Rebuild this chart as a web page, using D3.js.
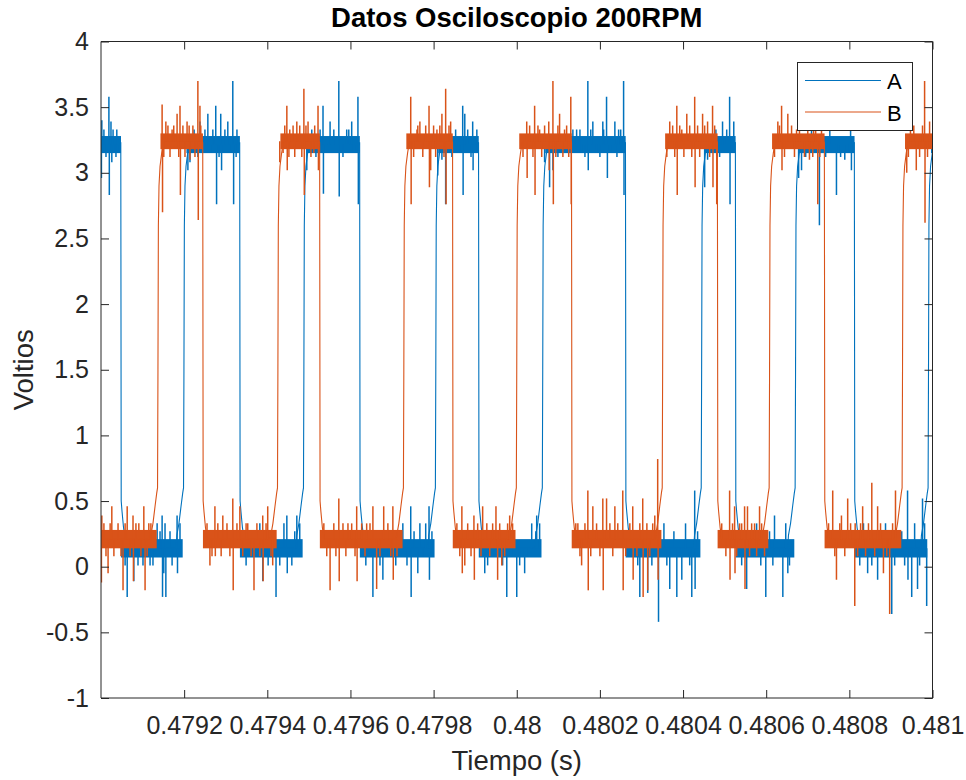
<!DOCTYPE html>
<meta charset="utf-8">
<style>
body, html {
    margin: 0;
    padding: 0;
    background: #fff;
    overflow: hidden;
}
svg { display: block; }
text { font-family: "Liberation Sans", Arial, Helvetica, sans-serif; }
</style>
<svg width="966" height="780"></svg>
<script src="https://cdn.jsdelivr.net/npm/d3@7"></script>
<script>

// ---- data ----
var timeRange = [0.479, 0.481];
var xTicks = [0.4792, 0.4794, 0.4796, 0.4798, 0.48, 0.4802, 0.4804, 0.4806, 0.4808, 0.481];
var xTickLabels = ["0.4792", "0.4794", "0.4796", "0.4798", "0.48", "0.4802", "0.4804", "0.4806", "0.4808", "0.481"];
var yTicks = [-1, -0.5, 0, 0.5, 1, 1.5, 2, 2.5, 3, 3.5, 4];
var yTickLabels = ["-1", "-0.5", "0", "0.5", "1", "1.5", "2", "2.5", "3", "3.5", "4"];

var seriesNames = ["A", "B"];
var seriesColors = ["#0072BD", "#D95319"];

// switching instants (s), the state alternates from the start state
var edgesA = [0.4790481, 0.4791995, 0.4793341, 0.4794880, 0.4796226, 0.4798053, 0.4799086,
              0.4800625, 0.4802620, 0.4804447, 0.4805264, 0.4806706, 0.4808125, 0.4809904];
var startA = "high";
var edgesB = [0.4791370, 0.4792452, 0.4794255, 0.4795264, 0.4797284, 0.4798461, 0.4800000,
              0.4801322, 0.4803509, 0.4804831, 0.4806081, 0.4807404, 0.4809279];
var startB = "low";

// dense noise band of each level (V)
var highBandA = [3.15, 3.28], lowBandA = [0.07, 0.21];
var highBandB = [3.18, 3.30], lowBandB = [0.14, 0.28];

// edge shapes: [microseconds from the switching instant, volts]
var riseProfile = [[-17, 0.24], [-12, 0.33], [-7, 0.46], [-3, 0.56], [-1, 0.6], [0, 1.5], [1, 2.6],
                   [2.5, 2.9], [5, 3.05], [9, 3.15], [13, 3.23]];
var fallProfile = [[-0.5, 3.23], [0.5, 0.5], [2.5, 0.42], [6, 0.3], [10, 0.22]];

// large single-sample spikes [t (s), V]
var spikesA = [
  [0.479001,2.96],[0.479002,3.40],[0.479019,3.58],[0.479020,2.83],[0.479024,3.39],[0.479026,3.08],[0.479031,3.15],[0.479038,3.33],
  [0.479063,-0.23],[0.479079,-0.11],[0.479101,0.01],[0.479118,0.01],[0.479135,0.33],[0.479147,0.39],[0.479148,-0.23],[0.479151,-0.05],[0.479156,-0.23],[0.479171,0.01],[0.479183,0.39],[0.479184,-0.05],
  [0.479209,3.02],[0.479214,3.08],[0.479238,3.39],[0.479257,3.45],[0.479276,3.51],[0.479278,2.76],[0.479288,3.45],[0.479290,3.02],[0.479305,3.39],[0.479317,3.70],[0.479319,2.76],[0.479327,3.33],
  [0.479389,-0.11],[0.479421,-0.23],[0.479447,0.39],[0.479448,-0.05],[0.479459,0.01],[0.479471,0.39],
  [0.479495,3.02],[0.479500,3.15],[0.479534,3.51],[0.479535,2.84],[0.479551,3.39],[0.479572,3.70],[0.479573,2.82],[0.479591,3.33],[0.479603,3.39],[0.479604,3.15],[0.479618,3.58],[0.479619,2.76],
  [0.479654,-0.23],[0.479678,-0.10],[0.479745,0.46],[0.479746,-0.23],[0.479762,-0.05],[0.479767,0.33],[0.479789,0.46],[0.479790,-0.10],
  [0.479810,2.98],[0.479820,3.10],[0.479829,2.76],[0.479870,3.51],[0.479871,2.83],[0.479875,3.45],[0.479894,3.39],[0.479895,3.02],[0.479904,3.33],
  [0.479923,-0.05],[0.479976,-0.23],[0.480000,-0.23],[0.480019,-0.05],[0.480048,0.39],
  [0.480067,3.08],[0.480079,2.89],[0.480087,3.02],[0.480144,3.33],[0.480156,3.15],[0.480171,3.70],[0.480172,3.02],[0.480183,3.39],[0.480192,3.15],[0.480207,3.39],[0.480216,3.58],[0.480218,2.96],[0.480236,3.39],[0.480245,3.33],[0.480257,3.70],[0.480258,2.83],
  [0.480296,-0.23],[0.480315,-0.20],[0.480341,-0.42],[0.480368,-0.17],[0.480385,-0.23],[0.480397,-0.10],[0.480421,-0.23],[0.480428,0.58],[0.480429,-0.17],
  [0.480452,2.89],[0.480459,3.10],[0.480495,3.39],[0.480512,3.58],[0.480513,2.76],[0.480522,3.39],
  [0.480553,-0.17],[0.480599,-0.23],[0.480620,0.39],[0.480640,-0.23],[0.480652,-0.05],
  [0.480678,2.96],[0.480685,3.02],[0.480728,2.60],[0.480769,2.83],[0.480789,3.10],[0.480805,3.02],
  [0.480844,-0.05],[0.480868,-0.10],[0.480902,-0.36],[0.480940,0.58],[0.480941,-0.10],[0.480950,-0.23],[0.480964,-0.17],[0.480976,0.52],[0.480986,-0.30]
];
var spikesB = [
  [0.479001,-0.12],[0.479002,0.39],[0.479017,-0.05],[0.479026,0.46],[0.479053,-0.18],[0.479063,0.46],[0.479077,0.39],[0.479078,-0.11],[0.479091,0.33],[0.479103,0.46],[0.479106,-0.18],[0.479115,0.33],
  [0.479147,3.52],[0.479148,2.70],[0.479156,3.39],[0.479171,3.33],[0.479183,3.45],[0.479190,3.51],[0.479191,2.83],[0.479207,3.39],[0.479214,3.10],[0.479233,3.70],[0.479234,2.64],[0.479238,3.51],
  [0.479262,0.01],[0.479274,0.46],[0.479275,0.08],[0.479293,0.39],[0.479317,0.52],[0.479318,-0.18],[0.479334,0.46],[0.479353,0.33],[0.479368,-0.18],[0.479389,0.39],[0.479390,-0.11],[0.479401,0.46],[0.479413,0.01],
  [0.479430,3.08],[0.479438,3.15],[0.479447,3.51],[0.479448,3.02],[0.479454,3.33],[0.479471,3.39],[0.479488,3.64],[0.479489,2.83],[0.479498,3.39],[0.479512,3.15],[0.479522,3.51],[0.479523,3.02],
  [0.479551,-0.18],[0.479572,0.52],[0.479573,-0.11],[0.479594,0.33],[0.479615,0.46],[0.479616,-0.11],[0.479639,0.33],[0.479654,0.46],[0.479663,-0.17],[0.479680,0.46],[0.479702,0.46],[0.479703,-0.10],
  [0.479745,3.58],[0.479746,2.76],[0.479760,3.33],[0.479767,3.39],[0.479789,3.51],[0.479790,2.89],[0.479793,3.02],[0.479808,3.33],[0.479820,3.45],[0.479829,3.64],[0.479830,2.76],[0.479841,3.39],
  [0.479868,0.46],[0.479869,-0.05],[0.479875,0.01],[0.479897,0.39],[0.479898,-0.10],[0.479918,0.46],[0.479950,0.46],[0.479954,-0.10],[0.479964,0.01],[0.479983,0.39],
  [0.480024,3.39],[0.480025,2.96],[0.480043,3.51],[0.480044,2.83],[0.480055,3.33],[0.480077,3.39],[0.480078,3.02],[0.480087,3.70],[0.480088,2.76],[0.480103,3.45],[0.480115,3.33],[0.480130,3.58],[0.480131,2.76],
  [0.480147,0.33],[0.480156,0.01],[0.480171,0.58],[0.480172,-0.18],[0.480183,0.46],[0.480207,0.52],[0.480208,-0.18],[0.480216,0.52],[0.480236,0.46],[0.480255,0.58],[0.480256,-0.18],[0.480279,0.46],[0.480280,-0.10],[0.480303,0.52],[0.480304,-0.23],[0.480315,-0.18],[0.480332,0.39],[0.480339,0.82],[0.480340,-0.10],
  [0.480368,3.39],[0.480385,3.51],[0.480386,2.83],[0.480397,3.33],[0.480409,3.45],[0.480428,3.58],[0.480429,2.89],[0.480447,3.45],[0.480459,3.39],[0.480471,3.51],[0.480472,2.89],[0.480481,2.76],
  [0.480512,0.58],[0.480513,-0.10],[0.480524,0.46],[0.480525,-0.05],[0.480536,0.33],[0.480548,0.46],[0.480549,-0.17],[0.480555,0.46],[0.480572,0.33],[0.480584,0.46],
  [0.480628,3.39],[0.480637,3.51],[0.480638,3.02],[0.480652,3.45],[0.480673,3.33],[0.480704,3.10],[0.480714,3.60],[0.480724,2.76],[0.480733,3.39],
  [0.480760,0.58],[0.480769,-0.10],[0.480781,0.39],[0.480796,0.52],[0.480813,-0.30],[0.480814,0.33],[0.480832,0.46],[0.480854,0.64],[0.480868,0.46],[0.480882,-0.05],[0.480897,-0.36],[0.480911,0.58],
  [0.480938,3.00],[0.480947,3.39],[0.480961,3.02],[0.480981,3.70],[0.480982,2.62],[0.480993,3.39]
];

// one-step flicker around the bands [t (s), V]
var flickA = [
  [0.479007,3.33],[0.479012,3.12],[0.479029,3.33],[0.479036,3.12],[0.479043,3.15],
  [0.479058,0.01],[0.479070,0.08],[0.479089,0.01],[0.479108,0.08],[0.479125,0.01],[0.479142,0.27],[0.479154,0.33],[0.479166,0.27],[0.479176,0.08],[0.479190,0.33],
  [0.479224,3.33],[0.479233,3.12],[0.479250,3.33],[0.479264,3.15],[0.479269,3.33],[0.479284,3.12],[0.479298,3.33],[0.479310,3.15],[0.479325,3.12],
  [0.479349,0.01],[0.479358,0.27],[0.479370,0.08],[0.479382,0.33],[0.479402,0.01],[0.479411,0.27],[0.479430,0.01],[0.479440,0.33],[0.479454,0.08],[0.479466,0.27],[0.479478,0.33],
  [0.479507,3.33],[0.479517,3.12],[0.479527,3.33],[0.479543,3.15],[0.479560,3.33],[0.479582,3.12],[0.479596,3.33],[0.479611,3.15],
  [0.479637,0.01],[0.479652,0.08],[0.479671,0.01],[0.479690,0.08],[0.479709,0.01],[0.479726,0.33],[0.479736,0.01],[0.479753,0.27],[0.479774,0.08],[0.479781,0.33],[0.479796,0.27],
  [0.479844,3.12],[0.479853,3.33],[0.479863,3.15],[0.479882,3.33],[0.479890,3.12],[0.479902,3.15],
  [0.479930,0.01],[0.479942,0.27],[0.479957,0.08],[0.479966,0.01],[0.479988,0.08],[0.480007,0.01],[0.480027,0.08],[0.480036,0.33],[0.480046,0.27],[0.480055,0.33],
  [0.480099,3.12],[0.480118,3.15],[0.480135,3.33],[0.480152,3.33],[0.480164,3.12],[0.480178,3.33],[0.480200,3.12],[0.480209,3.33],[0.480226,3.15],[0.480241,3.12],[0.480250,3.33],
  [0.480277,0.27],[0.480291,0.01],[0.480308,0.08],[0.480325,0.01],[0.480354,0.33],[0.480361,0.01],[0.480378,0.27],[0.480392,0.08],[0.480406,0.33],[0.480416,0.01],[0.480435,0.27],
  [0.480469,3.15],[0.480479,3.33],[0.480488,3.12],[0.480505,3.33],[0.480517,3.15],
  [0.480541,0.01],[0.480565,0.08],[0.480577,0.33],[0.480587,0.01],[0.480608,0.27],[0.480616,0.01],[0.480630,0.08],[0.480647,0.33],[0.480656,0.01],
  [0.480695,3.12],[0.480709,3.33],[0.480719,3.15],[0.480743,3.12],[0.480753,3.33],[0.480779,3.12],[0.480796,3.15],[0.480803,3.33],
  [0.480825,0.01],[0.480834,0.33],[0.480854,0.01],[0.480861,0.27],[0.480878,0.08],[0.480887,0.33],[0.480909,0.01],[0.480926,0.27],[0.480933,0.01],[0.480957,0.33],[0.480969,0.01],[0.480981,0.33]
];
var flickB = [
  [0.479007,0.33],[0.479012,0.08],[0.479022,0.33],[0.479031,0.08],[0.479041,0.33],[0.479048,0.08],[0.479058,0.33],[0.479070,0.08],[0.479084,0.33],[0.479096,0.08],[0.479111,0.08],[0.479120,0.33],
  [0.479151,3.12],[0.479161,3.36],[0.479166,3.12],[0.479175,3.36],[0.479187,3.12],[0.479197,3.36],[0.479202,3.12],[0.479212,3.36],[0.479221,3.36],[0.479226,3.12],[0.479240,3.36],
  [0.479255,0.33],[0.479267,0.08],[0.479281,0.33],[0.479289,0.08],[0.479303,0.33],[0.479310,0.08],[0.479327,0.33],[0.479341,0.08],[0.479349,0.33],[0.479361,0.08],[0.479375,0.33],[0.479382,0.08],[0.479397,0.33],[0.479409,0.08],
  [0.479442,3.36],[0.479452,3.12],[0.479462,3.36],[0.479466,3.12],[0.479478,3.36],[0.479483,3.12],[0.479493,3.36],[0.479505,3.12],[0.479514,3.36],
  [0.479536,0.33],[0.479543,0.08],[0.479560,0.33],[0.479565,0.08],[0.479582,0.33],[0.479589,0.08],[0.479603,0.33],[0.479611,0.08],[0.479627,0.33],[0.479635,0.08],[0.479647,0.33],[0.479671,0.08],[0.479690,0.33],[0.479697,0.08],[0.479712,0.08],
  [0.479752,3.12],[0.479762,3.36],[0.479774,3.12],[0.479781,3.36],[0.479800,3.36],[0.479805,3.12],[0.479815,3.36],[0.479825,3.12],[0.479837,3.36],
  [0.479856,0.33],[0.479863,0.08],[0.479882,0.33],[0.479890,0.08],[0.479906,0.33],[0.479914,0.08],[0.479928,0.33],[0.479935,0.08],[0.479942,0.33],[0.479959,0.33],[0.479971,0.08],[0.479978,0.33],[0.479990,0.33],
  [0.480015,3.12],[0.480031,3.36],[0.480039,3.12],[0.480051,3.36],[0.480060,3.12],[0.480067,3.36],[0.480094,3.12],[0.480099,3.36],[0.480111,3.12],[0.480120,3.36],[0.480125,3.12],
  [0.480142,0.33],[0.480152,0.08],[0.480164,0.33],[0.480178,0.08],[0.480192,0.33],[0.480200,0.08],[0.480224,0.33],[0.480231,0.08],[0.480243,0.33],[0.480262,0.08],[0.480272,0.33],[0.480289,0.08],[0.480296,0.33],[0.480313,0.33],[0.480320,0.08],[0.480327,0.33],
  [0.480361,3.12],[0.480375,3.36],[0.480380,3.12],[0.480392,3.36],[0.480402,3.12],[0.480416,3.36],[0.480421,3.12],[0.480435,3.36],[0.480440,3.12],[0.480452,3.36],[0.480464,3.12],[0.480476,3.36],
  [0.480493,0.33],[0.480503,0.08],[0.480519,0.33],[0.480529,0.08],[0.480541,0.33],[0.480560,0.08],[0.480565,0.33],[0.480577,0.08],[0.480589,0.33],[0.480596,0.08],
  [0.480620,3.12],[0.480632,3.36],[0.480644,3.12],[0.480661,3.36],[0.480668,3.12],[0.480680,3.36],[0.480692,3.12],[0.480700,3.36],[0.480712,3.12],[0.480719,3.36],[0.480729,3.12],
  [0.480750,0.33],[0.480765,0.08],[0.480777,0.33],[0.480789,0.08],[0.480803,0.33],[0.480820,0.08],[0.480827,0.33],[0.480839,0.08],[0.480846,0.33],[0.480861,0.08],[0.480875,0.33],[0.480890,0.08],[0.480904,0.33],
  [0.480942,3.12],[0.480955,3.36],[0.480969,3.12],[0.480976,3.36],[0.480988,3.12]
];

// ---- layout ----
var plotLeft = 101, plotRight = 932.5, plotTop = 41.5, plotBottom = 698;
var axisColor = "#262626";

var svg = d3.select("svg");

var x = d3.scaleLinear().domain(timeRange).range([plotLeft, plotRight]);
var y = d3.scaleLinear().domain([-1, 4]).range([plotBottom, plotTop]);

svg.append("defs").append("clipPath").attr("id", "plotclip")
  .append("rect")
    .attr("x", plotLeft).attr("y", plotTop)
    .attr("width", plotRight - plotLeft).attr("height", plotBottom - plotTop);

var plot = svg.append("g").attr("clip-path", "url(#plotclip)");

function plateaus(edges, start) {
  var bounds = [timeRange[0]].concat(edges, [timeRange[1]]);
  return bounds.slice(0, -1).map(function(t0, i) {
    return { t0: t0, t1: bounds[i + 1], high: (i % 2 === 0) === (start === "high"), i: i, last: i === bounds.length - 2 };
  });
}

function drawSignal(edges, start, highBand, lowBand, spikes, flicks, color) {
  var plats = plateaus(edges, start);
  var mid = function(b) { return (b[0] + b[1]) / 2; };
  var centre = function(p) { return mid(p.high ? highBand : lowBand); };
  var lastP = plats[plats.length - 1];

  // noise bands
  plot.append("g").selectAll("rect")
    .data(plats)
    .enter().append("rect")
      .attr("x", function(p) { return x(p.t0 + (p.high && p.i > 0 ? 6e-6 : 0)); })
      .attr("width", function(p) {
        var a = x(p.t0 + (p.high && p.i > 0 ? 6e-6 : 0));
        var b = x(p.t1 - (!p.high && !p.last ? 3e-6 : 0));
        return Math.max(0, b - a);
      })
      .attr("y", function(p) { return y((p.high ? highBand : lowBand)[1]); })
      .attr("height", function(p) {
        var b = p.high ? highBand : lowBand;
        return y(b[0]) - y(b[1]);
      })
      .attr("fill", color);

  // trace with the switching edges
  var pts = [[timeRange[0], centre(plats[0])]];
  plats.forEach(function(p, i) {
    if (i === 0) return;
    var prof = p.high ? riseProfile : fallProfile;
    pts.push([p.t0 + prof[0][0] * 1e-6 - 2e-6, centre(plats[i - 1])]);
    prof.forEach(function(q) { pts.push([p.t0 + q[0] * 1e-6, q[1]]); });
    pts.push([p.t0 + prof[prof.length - 1][0] * 1e-6 + 3e-6, centre(p)]);
  });
  pts.push([timeRange[1], centre(lastP)]);

  var line = d3.line().x(function(d) { return x(d[0]); }).y(function(d) { return y(d[1]); });
  plot.append("path")
    .datum(pts)
    .attr("d", line)
    .attr("fill", "none")
    .attr("stroke", color)
    .attr("stroke-width", 1.1)
    .attr("stroke-linejoin", "round");

  // spikes and flicker, drawn from the level they leave
  function levelAt(t) {
    var p = plats.find(function(q) { return t >= q.t0 && t < q.t1; }) || lastP;
    return centre(p);
  }
  plot.append("g").selectAll("line")
    .data(flicks.concat(spikes))
    .enter().append("line")
      .attr("x1", function(d) { return x(d[0]); })
      .attr("x2", function(d) { return x(d[0]); })
      .attr("y1", function(d) { return y(levelAt(d[0])); })
      .attr("y2", function(d) { return y(d[1]); })
      .attr("stroke", color)
      .attr("stroke-width", 1.5);
}

drawSignal(edgesA, startA, highBandA, lowBandA, spikesA, flickA, seriesColors[0]);
drawSignal(edgesB, startB, highBandB, lowBandB, spikesB, flickB, seriesColors[1]);

// ---- axes ----
function styleAxis(g) {
  g.select(".domain").remove();
  g.selectAll(".tick line").attr("stroke", axisColor);
  g.selectAll(".tick text").attr("fill", axisColor);
  g.attr("font-family", "Liberation Sans, Arial, sans-serif").attr("font-size", 25);
}

svg.append("g")
    .attr("transform", "translate(0," + plotBottom + ")")
    .call(d3.axisBottom(x).tickValues(xTicks)
      .tickFormat(function(d, i) { return xTickLabels[i]; })
      .tickSize(-8).tickPadding(18))
    .call(styleAxis);

svg.append("g")
    .attr("transform", "translate(0," + plotTop + ")")
    .call(d3.axisTop(x).tickValues(xTicks).tickFormat("").tickSize(-8))
    .call(styleAxis);

svg.append("g")
    .attr("transform", "translate(" + plotLeft + ",0)")
    .call(d3.axisLeft(y).tickValues(yTicks)
      .tickFormat(function(d, i) { return yTickLabels[i]; })
      .tickSize(-8).tickPadding(12))
    .call(styleAxis);

svg.append("g")
    .attr("transform", "translate(" + plotRight + ",0)")
    .call(d3.axisRight(y).tickValues(yTicks).tickFormat("").tickSize(-8))
    .call(styleAxis);

// box
svg.append("line").attr("x1", plotLeft).attr("x2", plotLeft).attr("y1", plotTop).attr("y2", plotBottom)
  .attr("stroke", axisColor).attr("stroke-width", 1);
svg.append("line").attr("x1", plotLeft).attr("x2", plotRight).attr("y1", plotBottom).attr("y2", plotBottom)
  .attr("stroke", axisColor).attr("stroke-width", 1);
svg.append("line").attr("x1", plotLeft).attr("x2", plotRight).attr("y1", plotTop).attr("y2", plotTop)
  .attr("stroke", axisColor).attr("stroke-width", 1);
svg.append("line").attr("x1", plotRight).attr("x2", plotRight).attr("y1", plotTop).attr("y2", plotBottom + 0.5)
  .attr("stroke", axisColor).attr("stroke-width", 1);

// titles
svg.append("text")
    .attr("x", (plotLeft + plotRight) / 2).attr("y", 27)
    .attr("text-anchor", "middle")
    .attr("font-size", 27.5).attr("font-weight", "bold").attr("fill", "#000")
    .text("Datos Osciloscopio 200RPM");

svg.append("text")
    .attr("x", (plotLeft + plotRight) / 2).attr("y", 770)
    .attr("text-anchor", "middle")
    .attr("font-size", 27.5).attr("fill", axisColor)
    .text("Tiempo (s)");

svg.append("text")
    .attr("transform", "translate(33," + (plotTop + plotBottom) / 2 + ") rotate(-90)")
    .attr("text-anchor", "middle")
    .attr("font-size", 27.5).attr("fill", axisColor)
    .text("Voltios");

// ---- legend ----
var legend = svg.append("g");
legend.append("rect")
    .attr("x", 797.5).attr("y", 62.5).attr("width", 115).attr("height", 68)
    .attr("fill", "#fff").attr("stroke", axisColor).attr("stroke-width", 1);

var items = legend.selectAll("g.item")
  .data(seriesNames)
  .enter().append("g")
    .attr("class", "item")
    .attr("transform", function(d, i) { return "translate(0," + (80.5 + i * 31.5) + ")"; });
items.append("line")
    .attr("x1", 805).attr("x2", 881)
    .attr("stroke", function(d, i) { return seriesColors[i]; })
    .attr("stroke-width", 1.1);
items.append("text")
    .attr("x", 887).attr("y", 8.5)
    .attr("font-size", 22).attr("fill", "#000")
    .text(function(d) { return d; });

</script>
